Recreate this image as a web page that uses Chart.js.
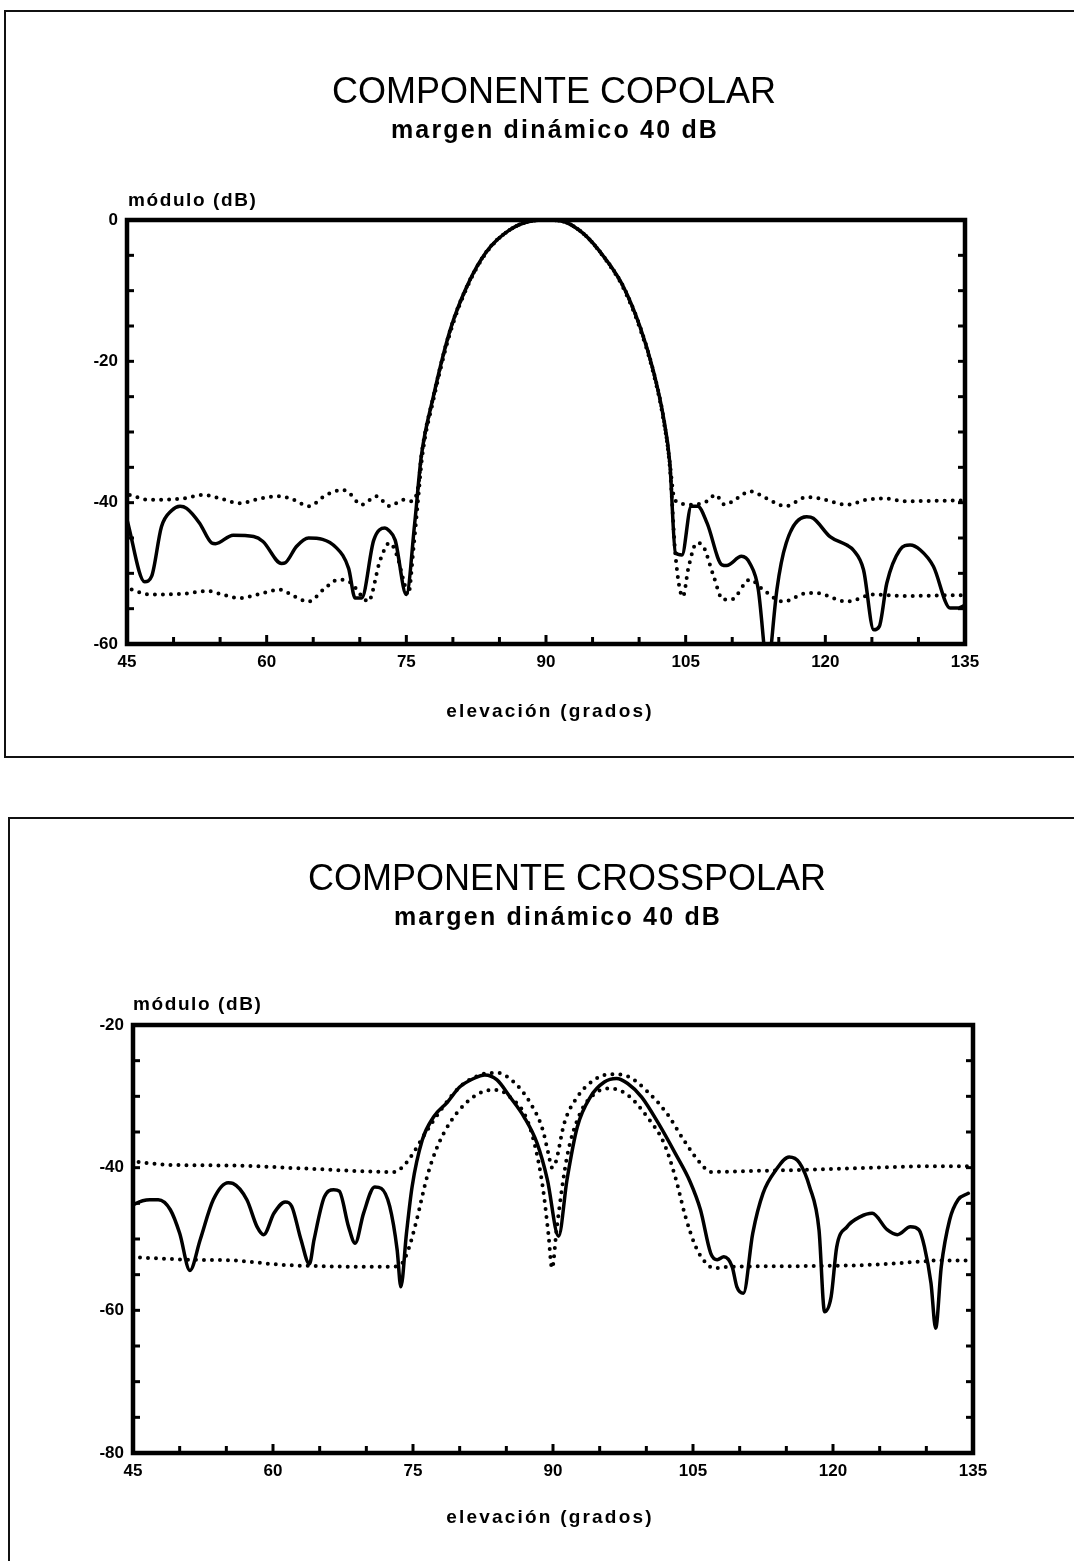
<!DOCTYPE html>
<html>
<head>
<meta charset="utf-8">
<script src="https://cdn.jsdelivr.net/npm/chart.js@4.4.0/dist/chart.umd.min.js"></script>
<style>
html,body{margin:0;padding:0;background:#fff;}
body{width:1074px;height:1561px;position:relative;overflow:hidden;}
.box{position:absolute;box-sizing:border-box;}
#box1{left:4px;top:10px;width:1090px;height:748px;border:2px solid #111;border-right:none;}
#box2{left:8px;top:817px;width:1090px;height:760px;border:2px solid #111;border-right:none;border-bottom:none;}
canvas{position:absolute;left:0;}
#c1{top:0;}
#c2{top:790px;}
</style>
</head>
<body>
<div class="box" id="box1"></div>
<div class="box" id="box2"></div>
<canvas id="c1" width="1074" height="780"></canvas>
<canvas id="c2" width="1074" height="771"></canvas>
<script>
// ---------- tick values ----------
const xTickLabels = [45, 60, 75, 90, 105, 120, 135];
const xMinorTicks = [45,50,55,60,65,70,75,80,85,90,95,100,105,110,115,120,125,130,135];
const yTickLabelsCo = [0, -20, -40, -60];
const yMinorTicksCo = [0,-5,-10,-15,-20,-25,-30,-35,-40,-45,-50,-55,-60];
const yTickLabelsX = [-20, -40, -60, -80];
const yMinorTicksX = [-20,-25,-30,-35,-40,-45,-50,-55,-60,-65,-70,-75,-80];

// ---------- COPOLAR: measured (solid) ----------
const coAngles = [45,46.9,47.65,48.7,49.8,50.7,51.4,52.8,54.1,54.5,56.4,58.6,59.6,61.6,62.0,63.2,64.5,67.5,68.8,69.5,70.2,71.5,72.7,73.1,73.8,75.0,75.9,76.6,77.9,79.7,81.5,83.6,86.1,88.6,90,91.5,94.0,96.5,98.3,100.1,101.5,102.6,103.3,103.9,104.6,105.6,106.3,107.3,108.9,109.4,111.0,111.9,112.8,113.4,113.8,114.2,114.8,115.8,118.0,118.7,120.5,122.3,123.0,124.1,125.2,125.8,126.6,128.0,129.1,130.2,131.6,133.4,134.3,135];
const coValues = [-42.4,-51.2,-50.4,-43.4,-41.1,-40.5,-40.8,-42.9,-45.7,-45.8,-44.6,-44.8,-45.5,-48.6,-48.5,-46.2,-45.0,-46.4,-49.3,-53.5,-53.5,-45.3,-43.6,-43.9,-45.3,-53.0,-42.9,-33.5,-25.0,-15.6,-9.4,-4.5,-1.4,-0.1,0,-0.1,-1.9,-5.7,-9.4,-15.1,-21.2,-27.8,-34.4,-47.1,-47.4,-40.5,-40.5,-42.9,-48.8,-48.9,-47.6,-48.6,-52.3,-60.1,-66,-60.1,-52.3,-45.7,-42.0,-42.2,-44.8,-46.0,-46.7,-49.5,-58.0,-57.5,-51.4,-46.7,-46.0,-46.7,-49.0,-54.9,-54.9,-54.5];
// COPOLAR: upper envelope (dotted)
const coUpAngles = [45.3,47.4,51.0,53.2,55.0,57.1,59.3,61.4,62.9,64.5,66.4,68.2,68.9,70.2,71.8,73.2,74.7,75.6,76.3,76.6,77.9,79.7,81.5,83.6,86.1,88.6,90,91.5,94,96.5,98.3,100.1,101.5,102.6,103.3,103.7,104.0,105.7,107.3,108.2,109.2,110.5,111.9,113.7,115.7,118.0,119.4,122.3,124.4,126.2,128.7,133.9,135];
const coUpValues = [-38.9,-39.6,-39.4,-38.9,-39.4,-40.1,-39.4,-39.1,-39.6,-40.5,-38.9,-38.2,-38.7,-40.3,-39.1,-40.5,-39.6,-39.8,-37.5,-33.5,-25.0,-15.6,-9.4,-4.5,-1.4,-0.1,0,-0.1,-1.9,-5.7,-9.4,-15.1,-21.2,-27.8,-34.4,-39.0,-39.8,-40.3,-39.8,-38.9,-40.3,-39.4,-38.4,-39.4,-40.5,-39.2,-39.4,-40.3,-39.6,-39.4,-39.8,-39.7,-39.7];
// COPOLAR: lower envelope (dotted)
const coLoAngles = [45.5,47.4,51.0,53.6,55.0,57.1,59.3,61.4,62.9,64.5,66.1,67.7,68.9,70.4,70.9,72.2,73.2,74.0,74.8,75.2,75.8,76.3,76.7,77.9,79.7,81.5,83.6,86.1,88.6,90,91.5,94,96.5,98.3,100.1,101.5,102.6,103.3,103.9,104.7,105.3,106.2,106.9,108.0,109.0,109.9,111.9,113.3,115.5,118.0,119.0,122.3,125.2,128.7,133.9,135];
const coLoValues = [-52.3,-53.0,-52.9,-52.5,-52.9,-53.5,-52.9,-52.3,-53.2,-54.0,-52.3,-50.9,-51.2,-53.5,-54.0,-48.1,-45.7,-47.5,-51.5,-53.0,-46.0,-39.0,-33.5,-25.5,-16.0,-9.6,-4.6,-1.4,-0.1,0,-0.1,-1.9,-5.8,-9.6,-15.4,-21.5,-28.2,-35.0,-47.4,-53.3,-49.2,-45.7,-46.2,-50.4,-53.7,-53.7,-50.9,-52.3,-54.0,-52.8,-52.8,-54.0,-53.0,-53.2,-53.1,-53.1];

// ---------- CROSSPOLAR: measured (solid) ----------
const xpAngles = [45,45.2,46.8,47.7,49.0,50.0,51.1,52.2,53.6,55.2,55.7,57.2,58.3,59.0,60.1,61.3,62.0,63.0,63.9,64.4,65.5,66.5,67.1,68.1,68.8,69.7,70.9,71.6,72.5,73.3,73.7,74.3,74.9,76.0,77.2,78.7,80.0,81.5,82.7,84.0,85.4,86.9,88.3,89.4,90.6,91.5,92.6,94.0,95.5,96.8,98.0,99.5,101.3,103.1,104.7,105.8,106.9,107.6,108.3,109.2,109.7,110.4,111.4,112.5,113.9,115.3,116.4,117.5,118.5,119.1,119.8,120.4,121.5,122.9,124.2,125.8,126.9,128.3,129.2,129.8,130.5,131.0,131.6,132.5,133.4,134.5];
const xpValues = [-45.3,-45.1,-44.5,-44.5,-45.9,-49.2,-54.4,-50.1,-44.5,-42.1,-42.2,-44.5,-48.3,-49.4,-46.4,-44.8,-45.4,-50.1,-53.5,-50.1,-44.1,-43.1,-43.3,-48.3,-50.6,-46.4,-42.7,-42.9,-45.4,-51.5,-56.7,-49.2,-42.7,-36.1,-32.9,-30.8,-28.7,-27.5,-27.0,-27.7,-30.1,-32.9,-36.6,-41.7,-49.6,-41.7,-34.3,-30.1,-28.0,-27.5,-28.2,-30.1,-33.8,-38.0,-42.0,-45.9,-52.0,-52.9,-52.5,-53.9,-56.7,-57.6,-49.2,-43.6,-40.3,-38.5,-39.3,-42.7,-48.7,-60.2,-58.1,-51.1,-48.3,-46.9,-46.4,-48.7,-49.4,-48.3,-48.7,-51.1,-56.2,-62.5,-53.9,-47.3,-44.5,-43.6];
// CROSSPOLAR: upper envelope (dotted)
const xpUpAngles = [45.6,48.6,55.7,63.0,73.0,74.1,75.1,76.4,78.0,80.0,82.2,84.0,85.8,87.6,88.9,89.5,89.9,90.3,91.2,92.6,94.4,96.2,98.0,100.1,102.2,104.0,105.8,106.9,110.1,117.2,124.4,129.7,135];
const xpUpValues = [-39.2,-39.6,-39.7,-40.1,-40.6,-39.6,-37.8,-35.0,-31.9,-28.7,-27.0,-26.7,-28.0,-31.0,-34.7,-38.0,-40.0,-39.2,-33.8,-30.1,-27.7,-26.9,-27.2,-29.3,-32.4,-36.1,-39.4,-40.6,-40.5,-40.3,-40.0,-39.8,-39.8];
// CROSSPOLAR: lower envelope (dotted)
const xpLoAngles = [45.75,51.1,55.7,60.75,64.7,72.5,73.75,74.5,75.4,76.5,77.6,79.0,80.8,82.6,84.0,85.4,87.1,88.1,88.9,89.5,89.9,90.4,91.5,92.9,94.5,96.2,98.0,100.1,101.9,103.1,104.2,105.3,106.4,107.3,108.9,117.2,124.4,129.0,131.5,135];
const xpLoValues = [-52.6,-52.9,-53.0,-53.6,-53.8,-53.9,-53.5,-51.5,-47.3,-41.3,-37.1,-33.6,-30.8,-29.3,-29.1,-30.1,-32.9,-37.1,-42.7,-49.2,-54.1,-48.5,-38.5,-32.4,-29.6,-28.9,-29.8,-32.9,-36.6,-41.3,-46.9,-51.1,-53.4,-54.1,-53.9,-53.8,-53.6,-53.2,-53.0,-53.0];

// ---------- helpers ----------
const FONT = '"Liberation Sans", Arial, Helvetica, sans-serif';
const pts = (xs, ys) => xs.map((x, i) => ({x: x, y: ys[i]}));

const solidStyle = {borderColor:'#000', borderWidth:3.5, pointRadius:0, cubicInterpolationMode:'monotone', borderJoinStyle:'round', borderCapStyle:'round', fill:false};
const dotStyle = {borderColor:'#000', borderWidth:4, pointRadius:0, cubicInterpolationMode:'monotone', borderDash:[0, 8], borderCapStyle:'round', fill:false};

const frameTicks = {
  id: 'frameTicks',
  afterDraw(chart, args, o) {
    const {ctx, chartArea: a, scales: {x, y}} = chart;
    ctx.save();
    ctx.strokeStyle = '#000';
    ctx.lineCap = 'butt';
    ctx.lineWidth = 3;
    const line = (x1, y1, x2, y2) => { ctx.beginPath(); ctx.moveTo(x1, y1); ctx.lineTo(x2, y2); ctx.stroke(); };
    o.xMinor.forEach(v => {
      const px = x.getPixelForValue(v);
      const len = o.xMajor.includes(v) ? 9 : 7;
      line(px, a.bottom, px, a.bottom - len);
    });
    o.yMinor.forEach(v => {
      const py = y.getPixelForValue(v);
      line(a.left, py, a.left + 7, py);
      line(a.right, py, a.right - 7, py);
    });
    ctx.lineWidth = 4.5;
    ctx.strokeRect(a.left, a.top, a.right - a.left, a.bottom - a.top);
    ctx.fillStyle = '#000';
    ctx.textBaseline = 'middle';
    o.texts.forEach(t => {
      ctx.font = t.font;
      ctx.textAlign = t.align;
      ctx.letterSpacing = t.spacing || '0px';
      ctx.fillText(t.text, t.x, t.y);
    });
    ctx.restore();
  }
};

function makeChart(id, cfg) {
  return new Chart(document.getElementById(id), {
    type: 'line',
    data: {datasets: [
      Object.assign({label: 'upper', data: pts(cfg.upA, cfg.upV)}, dotStyle),
      Object.assign({label: 'lower', data: pts(cfg.loA, cfg.loV)}, dotStyle),
      Object.assign({label: 'measured', data: pts(cfg.mA, cfg.mV)}, solidStyle)
    ]},
    options: {
      responsive: false,
      animation: false,
      events: [],
      layout: {padding: cfg.padding},
      plugins: {
        legend: {display: false},
        tooltip: {enabled: false},
        frameTicks: {xMinor: xMinorTicks, xMajor: xTickLabels, yMinor: cfg.yMinor, texts: cfg.texts}
      },
      scales: {
        x: {
          type: 'linear', min: 45, max: 135,
          grid: {display: false, drawTicks: false},
          border: {display: false},
          afterBuildTicks: s => { s.ticks = xTickLabels.map(v => ({value: v})); },
          afterFit: s => { s.height = 40; },
          ticks: {color: '#000', font: {family: FONT, size: 17, weight: 'bold'}, padding: 8, maxRotation: 0, autoSkip: false}
        },
        y: {
          type: 'linear', min: cfg.yMin, max: cfg.yMax,
          grid: {display: false, drawTicks: false},
          border: {display: false},
          afterBuildTicks: s => { s.ticks = cfg.yLabels.map(v => ({value: v})); },
          afterFit: s => { s.width = 60; },
          ticks: {color: '#000', font: {family: FONT, size: 17, weight: 'bold'}, padding: 9, autoSkip: false}
        }
      }
    },
    plugins: [frameTicks]
  });
}

makeChart('c1', {
  mA: coAngles, mV: coValues, upA: coUpAngles, upV: coUpValues, loA: coLoAngles, loV: coLoValues,
  yMin: -60, yMax: 0, yLabels: yTickLabelsCo, yMinor: yMinorTicksCo,
  padding: {left: 67, right: 109, top: 220, bottom: 96},
  texts: [
    {text: 'COMPONENTE COPOLAR', x: 554, y: 93, align: 'center', font: '36px ' + FONT},
    {text: 'margen dinámico 40 dB', x: 555, y: 131, align: 'center', font: 'bold 25px ' + FONT, spacing: '2.2px'},
    {text: 'módulo (dB)', x: 128, y: 201, align: 'left', font: 'bold 19px ' + FONT, spacing: '1.6px'},
    {text: 'elevación (grados)', x: 550, y: 712, align: 'center', font: 'bold 19px ' + FONT, spacing: '2.2px'}
  ]
});

makeChart('c2', {
  mA: xpAngles, mV: xpValues, upA: xpUpAngles, upV: xpUpValues, loA: xpLoAngles, loV: xpLoValues,
  yMin: -80, yMax: -20, yLabels: yTickLabelsX, yMinor: yMinorTicksX,
  padding: {left: 73, right: 101, top: 235, bottom: 68},
  texts: [
    {text: 'COMPONENTE CROSSPOLAR', x: 567, y: 90, align: 'center', font: '36px ' + FONT},
    {text: 'margen dinámico 40 dB', x: 558, y: 128, align: 'center', font: 'bold 25px ' + FONT, spacing: '2.2px'},
    {text: 'módulo (dB)', x: 133, y: 215, align: 'left', font: 'bold 19px ' + FONT, spacing: '1.6px'},
    {text: 'elevación (grados)', x: 550, y: 728, align: 'center', font: 'bold 19px ' + FONT, spacing: '2.2px'}
  ]
});
</script>
</body>
</html>
